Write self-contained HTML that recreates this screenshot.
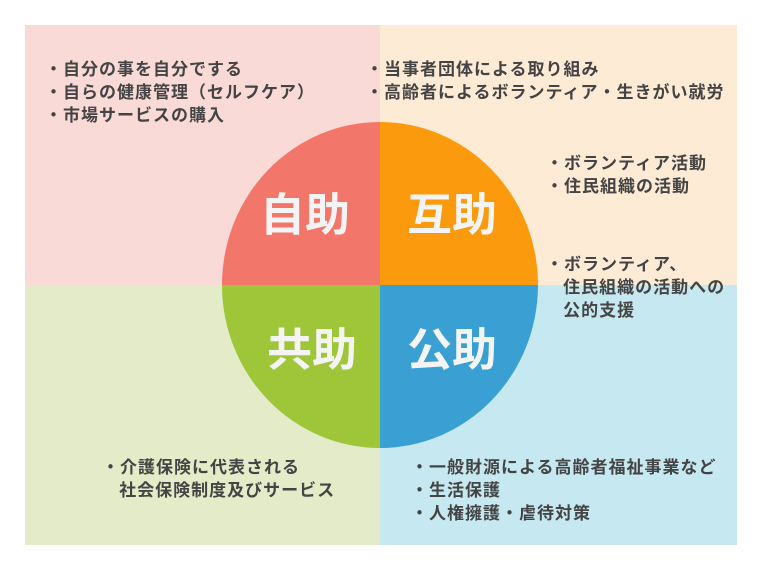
<!DOCTYPE html>
<html><head><meta charset="utf-8"><style>
body{margin:0;width:760px;height:570px;background:#fff;position:relative;overflow:hidden;font-family:"Liberation Sans","Noto Sans CJK JP",sans-serif}
.p{position:absolute}
.t{position:absolute;font-size:17px;letter-spacing:1px;font-weight:bold;color:#444;line-height:23px;white-space:nowrap}
.b{position:absolute;font-size:45px;font-weight:bold;color:#f4f4f4;line-height:1;transform:translate(-50%,-50%);white-space:nowrap}
</style></head><body>
<div class="p" style="left:25px;top:25px;width:355px;height:260px;background:#f9dad6"></div>
<div class="p" style="left:380px;top:25px;width:357px;height:260px;background:#fdebd5"></div>
<div class="p" style="left:25px;top:285px;width:355px;height:260px;background:#e4ebc8"></div>
<div class="p" style="left:380px;top:285px;width:357px;height:260px;background:#c6e8f0"></div>
<svg class="p" style="left:0;top:0" width="760" height="570">
<path d="M380,285 L222,285 A158,163 0 0 1 380,122 Z" fill="#f2776a"/>
<path d="M380,285 L380,122 A158,163 0 0 1 538,285 Z" fill="#fb9a0c"/>
<path d="M380,285 L222,285 A158,163 0 0 0 380,448 Z" fill="#9ec638"/>
<path d="M380,285 L380,448 A158,163 0 0 0 538,285 Z" fill="#3aa0d4"/>
</svg>
<div class="b" style="left:305px;top:215px">自助</div>
<div class="b" style="left:452px;top:215px">互助</div>
<div class="b" style="left:312px;top:350px">共助</div>
<div class="b" style="left:452px;top:350px">公助</div>
<div class="t" style="left:45px;top:58px">・自分の事を自分でする<br>・自らの健康管理（セルフケア）<br>・市場サービスの購入</div>
<div class="t" style="left:366px;top:58px">・当事者団体による取り組み<br>・高齢者によるボランティア・生きがい就労</div>
<div class="t" style="left:546px;top:152px">・ボランティア活動<br>・住民組織の活動</div>
<div class="t" style="left:546px;top:253px">・ボランティア、<br>&nbsp;&nbsp;&nbsp;住民組織の活動への<br>&nbsp;&nbsp;&nbsp;公的支援</div>
<div class="t" style="left:102px;top:456px">・介護保険に代表される<br>&nbsp;&nbsp;&nbsp;社会保険制度及びサービス</div>
<div class="t" style="left:411px;top:456px">・一般財源による高齢者福祉事業など<br>・生活保護<br>・人権擁護・虐待対策</div>
</body></html>
